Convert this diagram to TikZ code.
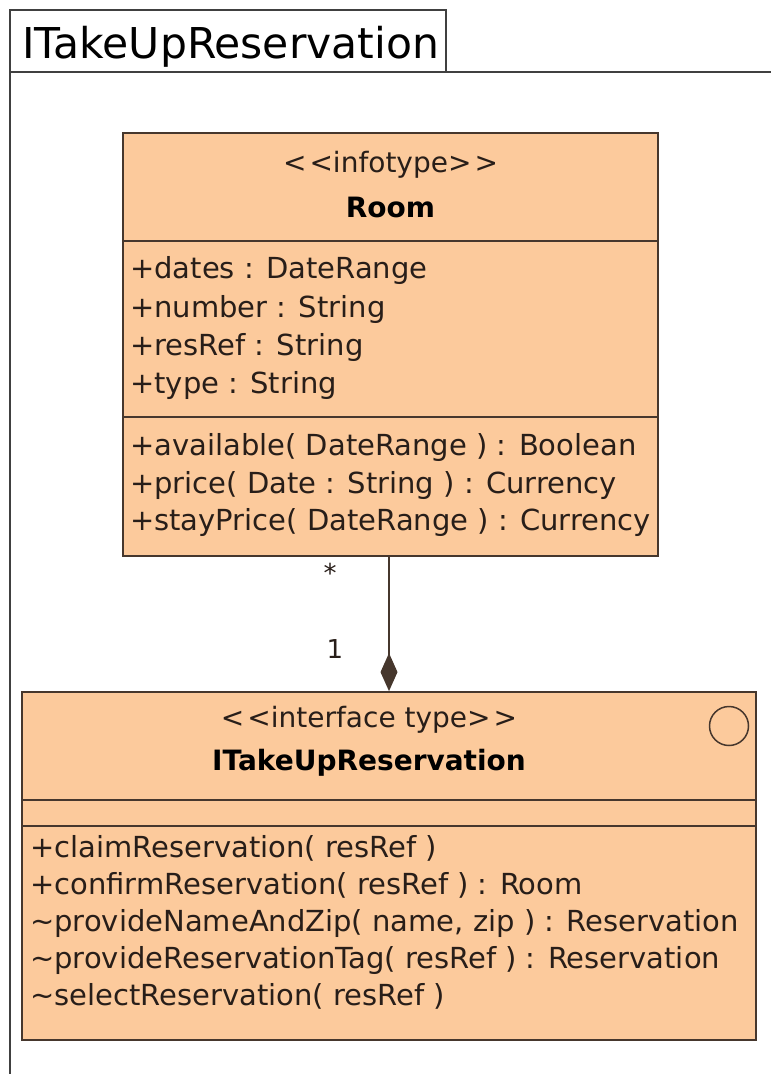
\documentclass[tikz,border=0pt]{standalone}
\usepackage{fontspec}
\setmainfont{DejaVu Sans}
\usetikzlibrary{arrows.meta}
\definecolor{peach}{RGB}{252,202,156}
\definecolor{umlline}{RGB}{70,55,45}
\definecolor{umltext}{RGB}{40,30,25}
\tikzset{
  x=1pt,y=-1pt,
  classbox/.style={draw=umlline,fill=peach,line width=1.8pt,minimum width=#1,inner sep=0pt},
  divider/.style={draw=umlline,line width=1.8pt},
  frameline/.style={draw=black!75,line width=1.5pt},
  member/.style={anchor=base west,inner sep=0pt,text=umltext,font=\fontsize{29}{29}\selectfont},
  stereo/.style={anchor=base,inner sep=0pt,text=umltext,font=\fontsize{28}{28}\selectfont},
  cname/.style={anchor=base,inner sep=0pt,text=black,font=\fontsize{28}{28}\selectfont\bfseries},
  mult/.style={anchor=base,inner sep=0pt,text=umltext,font=\fontsize{26}{26}\selectfont},
}
\newcommand{\umlopen}{<\kern3pt<}
\newcommand{\umlclose}{>\kern3pt>}
\begin{document}
\begin{tikzpicture}
\useasboundingbox (0,0) rectangle (771,1074);
\fill[white] (0,0) rectangle (771,1074);
% frame
\draw[frameline] (10,1074) -- (10,10) -- (446,10) -- (446,72);
\draw[frameline] (10,72) -- (771,72);
\node[anchor=base west,inner sep=0pt,font=\fontsize{42.5}{42.5}\selectfont] (frametitle) at (22,58) {ITakeUpReservation};
% Room class
\node[classbox=535pt,minimum height=423pt] (room) at (390.5,344.5) {};
\draw[divider] (room.west |- 0,241) -- (room.east |- 0,241);
\draw[divider] (room.west |- 0,417) -- (room.east |- 0,417);
\node[stereo] (roomst) at (390.5,172) {\umlopen infotype\umlclose};
\node[cname] (roomname) at (390.5,217) {Room};
\node[member] (a1) at (130,278) {+dates : DateRange};
\node[member] (a2) at (130,317) {+number : String};
\node[member] (a3) at (130,355) {+resRef : String};
\node[member] (a4) at (130,393) {+type : String};
\node[member] (o1) at (130,455) {+available( DateRange ) : Boolean};
\node[member] (o2) at (130,493) {+price( Date : String ) : Currency};
\node[member] (o3) at (130,530) {+stayPrice( DateRange ) : Currency};
% Interface class
\node[classbox=734pt,minimum height=348pt] (iface) at (389,866) {};
\draw[divider] (iface.west |- 0,800) -- (iface.east |- 0,800);
\draw[divider] (iface.west |- 0,826) -- (iface.east |- 0,826);
\node[stereo] (ifst) at (369,727) {\umlopen interface type\umlclose};
\node[cname] (ifname) at (369,770) {ITakeUpReservation};
\node[draw=umlline,line width=1.5pt,circle,minimum size=39pt,inner sep=0pt] (ifcircle) at (729,726) {};
\node[member] (p1) at (30,857) {+claimReservation( resRef )};
\node[member] (p2) at (30,894) {+confirmReservation( resRef ) : Room};
\node[member] (p3) at (30,931) {\textasciitilde provideNameAndZip( name, zip ) : Reservation};
\node[member] (p4) at (30,968) {\textasciitilde provideReservationTag( resRef ) : Reservation};
\node[member] (p5) at (30,1005) {\textasciitilde selectReservation( resRef )};
% composition
\draw[draw=umlline,line width=1.8pt,-{Diamond[length=38pt,width=17pt,fill=umlline]}] (iface.north |- room.south) -- (iface.north);
\node[mult] (mstar) at (330,582) {*};
\node[mult] (mone) at (335,658) {1};
\end{tikzpicture}
\end{document}
